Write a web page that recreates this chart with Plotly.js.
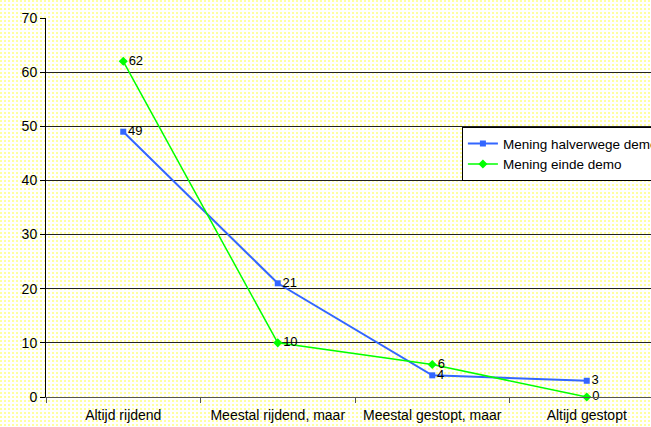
<!DOCTYPE html>
<html>
<head>
<meta charset="utf-8">
<script src="https://cdn.plot.ly/plotly-3.0.1.min.js"></script>
<style>
html,body{margin:0;padding:0;overflow:hidden;width:651px;height:427px;}
body{
  background-color:#ffffff;
  background-image:
    linear-gradient(90deg, rgba(255,255,255,0) 0px, rgba(255,255,255,0) 2px, #ffffff 2px, #ffffff 4px),
    linear-gradient(180deg, #ffffa0 0px, #ffffa0 2px, #ffffff 2px, #ffffff 4px);
  background-size:4px 4px;
}
#chart{width:700px;height:427px;}
</style>
</head>
<body>
<div id="chart"></div>
<script>
var categories = ["Altijd rijdend", "Meestal rijdend, maar", "Meestal gestopt, maar", "Altijd gestopt"];
var seriesNames = ["Mening halverwege demo", "Mening einde demo"];
var halverwege = [49, 21, 4, 3];
var einde = [62, 10, 6, 0];
var yTicks = [0, 10, 20, 30, 40, 50, 60, 70];

var FONT = "Liberation Sans, Arial, sans-serif";
var traces = [
  {
    x: categories, y: halverwege, name: seriesNames[0],
    type: "scatter", mode: "lines+markers+text",
    text: halverwege.map(String), textposition: "middle right",
    textfont: {family: FONT, size: 13, color: "#000"},
    line: {color: "#3366FF", width: 2},
    marker: {symbol: "square", size: 6, color: "#3366FF"},
    cliponaxis: false
  },
  {
    x: categories, y: einde, name: seriesNames[1],
    type: "scatter", mode: "lines+markers+text",
    text: einde.map(String), textposition: "middle right",
    textfont: {family: FONT, size: 13, color: "#000"},
    line: {color: "#00FF00", width: 1.5},
    marker: {symbol: "diamond", size: 7, color: "#00FF00"},
    cliponaxis: false
  }
];

var layout = {
  width: 700, height: 427,
  margin: {l: 46, r: 36, t: 18, b: 30, pad: 0},
  paper_bgcolor: "rgba(0,0,0,0)",
  plot_bgcolor: "rgba(0,0,0,0)",
  font: {family: FONT, size: 14, color: "#000"},
  showlegend: true,
  legend: {
    x: 0.673, y: 0.712, xanchor: "left", yanchor: "top",
    bgcolor: "#ffffff", bordercolor: "#000000", borderwidth: 1,
    font: {family: FONT, size: 13.5, color: "#000"},
    tracegroupgap: 0, itemwidth: 30
  },
  xaxis: {
    type: "category", range: [-0.5, 3.5],
    showgrid: false, zeroline: false,
    showline: true, linecolor: "#555", linewidth: 1,
    ticks: "outside", ticklen: 5, tickcolor: "#555", tickson: "boundaries",
    ticklabelstandoff: 5,
    tickfont: {family: FONT, size: 14}
  },
  yaxis: {
    range: [0, 70], tickvals: yTicks, ticktext: yTicks.map(String),
    showgrid: true, gridcolor: "#222", gridwidth: 1,
    zeroline: false,
    showline: true, linecolor: "#000", linewidth: 1,
    ticks: "outside", ticklen: 5, tickcolor: "#000",
    tickfont: {family: FONT, size: 14}
  }
};

Plotly.newPlot("chart", traces, layout, {displayModeBar: false, staticPlot: true});
</script>
</body>
</html>
